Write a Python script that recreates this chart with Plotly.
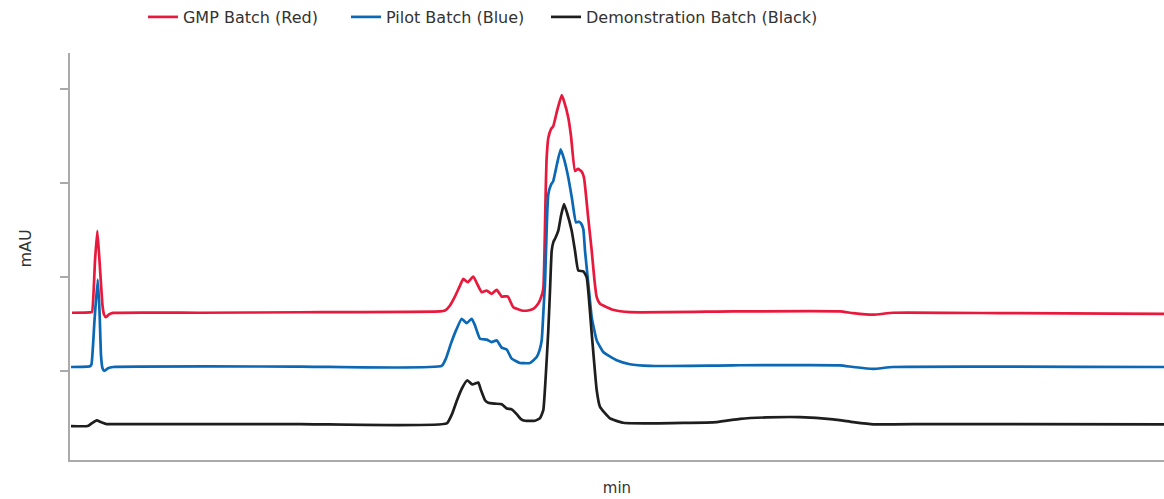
import plotly.graph_objects as go

# Retention time (min) and absorbance (mAU)
gmp_time = [0.1, 1.0, 1.1, 1.25, 1.365, 1.475, 1.625, 1.7, 1.8, 1.95, 2.15, 6.5, 11.5, 18.5, 18.75,
            19.0, 19.25, 19.5, 19.665, 19.885, 20.165, 20.35, 20.585, 20.835, 21.085, 21.335, 21.585,
            21.885, 22.165, 22.585, 22.9, 23.165, 23.415, 23.55, 23.665, 23.725, 23.775, 23.825, 23.915,
            24.05, 24.165, 24.35, 24.585, 24.7, 24.915, 25.05, 25.25, 25.4, 25.585, 25.7, 25.9, 26.085,
            26.225, 26.335, 26.5, 27.15, 28.0, 33.15, 38.5, 39.15, 40.15, 41.15, 46.5, 54.7]
gmp_mau = [162.2, 162.5, 163.0, 217.6, 249.4, 217.6, 169.9, 160.4, 157.5, 160.4, 162.0, 162.2, 162.7,
           163.6, 164.6, 169.9, 179.5, 191.1, 198.2, 194.6, 200.7, 193.2, 184.0, 185.8, 182.3, 186.6,
           179.5, 179.5, 168.1, 164.6, 164.6, 166.4, 172.0, 178.4, 187.9, 228.2, 281.2, 323.6, 348.0,
           357.5, 360.7, 376.6, 393.6, 387.2, 369.5, 350.1, 313.0, 315.1, 312.3, 305.9, 265.3, 228.2,
           196.4, 178.7, 171.7, 165.4, 162.8, 163.6, 163.6, 161.8, 160.1, 162.2, 161.8, 160.9]

pilot_time = [0.05, 1.0, 1.075, 1.225, 1.385, 1.475, 1.55, 1.625, 1.715, 1.9, 2.15, 11.5, 18.585, 18.8,
              19.05, 19.3, 19.585, 19.835, 20.085, 20.25, 20.5, 20.835, 21.085, 21.335, 21.585, 21.835,
              22.085, 22.5, 23.0, 23.335, 23.475, 23.585, 23.7, 23.75, 23.8, 23.865, 23.915, 24.05,
              24.165, 24.35, 24.535, 24.7, 24.915, 25.1, 25.3, 25.45, 25.55, 25.665, 25.75, 25.925,
              26.085, 26.335, 26.665, 27.335, 28.0, 29.0, 33.15, 38.5, 39.15, 40.15, 41.15, 54.7]
pilot_mau = [104.5, 105.3, 107.4, 154.0, 197.5, 164.6, 116.9, 103.1, 100.3, 103.1, 104.5, 105.0, 105.6,
             113.7, 129.6, 143.4, 155.8, 151.2, 155.8, 148.7, 134.6, 133.6, 131.0, 132.8, 125.1, 123.0,
             113.4, 108.8, 108.8, 115.1, 122.2, 132.8, 175.2, 193.2, 228.2, 270.6, 288.3, 298.2, 302.4,
             320.4, 336.0, 325.7, 305.9, 283.3, 258.2, 259.0, 257.2, 251.2, 228.2, 191.1, 157.5, 132.8,
             120.4, 111.6, 107.4, 105.6, 106.3, 106.3, 104.5, 102.4, 104.5, 104.5]

demo_time = [0.05, 0.885, 1.1, 1.335, 1.55, 1.835, 2.15, 11.5, 18.835, 19.1, 19.35, 19.6, 19.865, 20.115,
             20.415, 20.55, 20.75, 20.915, 21.25, 21.585, 21.835, 22.085, 22.335, 22.55, 22.75, 23.25,
             23.5, 23.665, 23.775, 23.915, 24.0, 24.085, 24.175, 24.275, 24.415, 24.55, 24.7, 24.85,
             25.085, 25.25, 25.415, 25.665, 25.835, 26.085, 26.335, 26.5, 27.0, 27.665, 29.0, 32.335,
             33.5, 34.835, 36.5, 38.165, 39.165, 40.165, 41.165, 43.165, 54.7]
demo_mau = [41.7, 41.7, 44.8, 47.7, 45.9, 43.8, 43.8, 43.8, 44.5, 54.4, 69.2, 81.9, 90.4, 85.9, 88.0,
            79.8, 69.2, 66.4, 65.5, 65.0, 60.4, 59.4, 54.4, 49.1, 47.3, 47.3, 50.1, 58.6, 90.4, 143.4,
            185.8, 228.2, 237.8, 242.0, 249.4, 265.3, 277.7, 268.5, 249.4, 228.2, 207.0, 206.3, 199.9,
            140.2, 79.8, 62.1, 49.8, 45.2, 44.5, 45.9, 49.4, 50.9, 51.2, 48.8, 45.9, 43.5, 43.5, 43.8,
            43.5]

series = [
    ("GMP Batch (Red)", gmp_time, gmp_mau, "#e8193c", "legend"),
    ("Pilot Batch (Blue)", pilot_time, pilot_mau, "#0b68b4", "legend2"),
    ("Demonstration Batch (Black)", demo_time, demo_mau, "#1e1e1e", "legend3"),
]

y_ticks = [100, 200, 300, 400]

fig = go.Figure()
for name, t, v, c, lg in series:
    fig.add_trace(go.Scatter(x=t, y=v, name=name, mode="lines", legend=lg,
                             line=dict(color=c, width=2.7, shape="spline", smoothing=0.4)))

axis_col = "#aaaaaa"
text_col = "#333333"


def legend_at(xpos):
    return dict(orientation="h", x=xpos, xanchor="left", y=1.088, yanchor="middle",
                font=dict(size=16, color=text_col), itemwidth=30, bgcolor="rgba(0,0,0,0)")


fig.update_layout(
    width=1164, height=499,
    margin=dict(l=70, r=0, t=52, b=39),
    paper_bgcolor="white", plot_bgcolor="white",
    font=dict(family="DejaVu Sans", size=15, color=text_col),
    showlegend=True,
    legend=legend_at(0.0667),
    legend2=legend_at(0.2523),
    legend3=legend_at(0.4351),
    xaxis=dict(range=[0, 54.7], showgrid=False, zeroline=False, showline=True,
               linecolor=axis_col, linewidth=1.5, ticks="", showticklabels=False,
               title=dict(text="min", standoff=22, font=dict(size=15))),
    yaxis=dict(range=[5.6, 438.4], showgrid=False, zeroline=False, showline=True,
               linecolor=axis_col, linewidth=1.5, tickvals=y_ticks, ticks="outside",
               ticklen=8, tickcolor=axis_col, tickwidth=1.5, showticklabels=False),
    annotations=[dict(text="mAU", textangle=-90, xref="paper", yref="paper",
                      x=-0.0411, y=0.5196, xanchor="center", yanchor="middle",
                      showarrow=False, font=dict(size=16, color=text_col))],
)

fig.write_html("out.html", config={"displayModeBar": False},
               post_script="document.body.style.margin='0';")
